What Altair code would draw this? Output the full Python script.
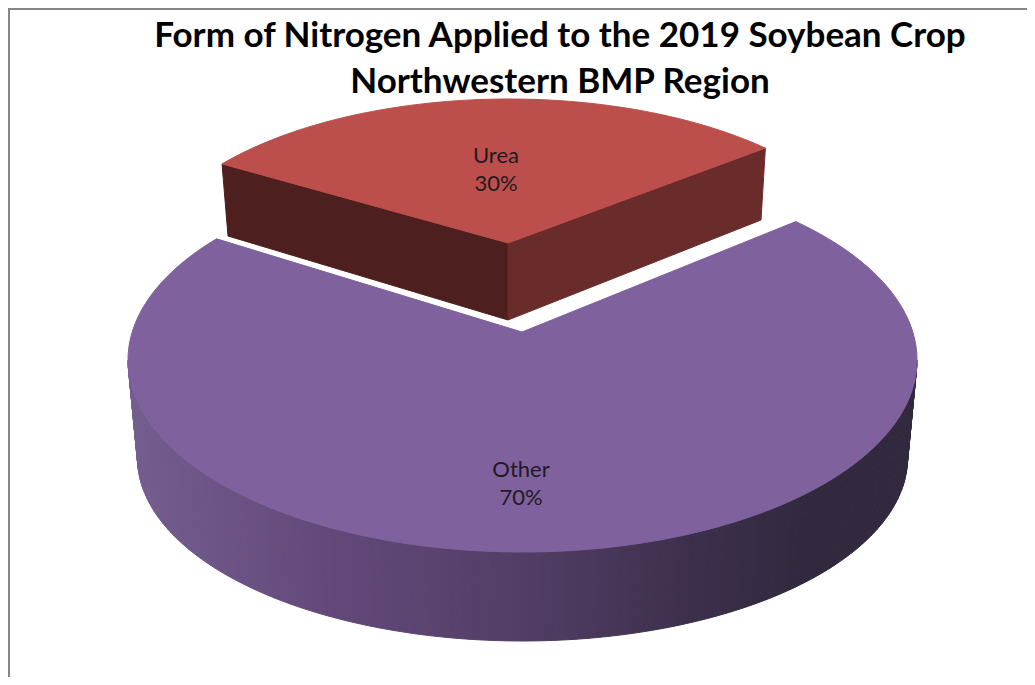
import math
import altair as alt

# ---- chart values ----
categories = ["Urea", "Other"]
shares = [30, 70]
title_lines = ["Form of Nitrogen Applied to the 2019 Soybean Crop",
               "Northwestern BMP Region"]

# ---- view model of the tilted, exploded pie (page pixels) ----
FORESHORTEN = 0.877          # perspective narrows the far slice's apparent angle
MID_ANGLE = 266.5            # direction of the exploded slice
span = shares[0] / 100 * 360 * FORESHORTEN
T0, T1 = MID_ANGLE - span / 2, MID_ANGLE + span / 2

OTHER_TOP = dict(cx=522.5, cy=360, rx=394.5, ry=192)
OTHER_BOT = dict(cx=522.5, cy=458, rx=385, ry=183)
OTHER_APEX = (522, 332)
UREA_TOP = dict(cx=509, cy=275, rx=370, ry=176)
UREA_APEX = (508, 243)
UREA_DROP_LEFT, UREA_DROP_APEX, UREA_DROP_RIGHT = (228, 236), (508, 320), (761, 220)

C_UREA_TOP, C_UREA_LEFT, C_UREA_RIGHT = "#bc4f4c", "#4d1f1e", "#6a2b2b"
C_OTHER_TOP = "#7f619e"
RIM_STOPS = [(0.0, "#755d90"), (0.25, "#63497a"), (0.5, "#523e66"),
             (0.72, "#3c2f4c"), (0.86, "#32293f"), (1.0, "#32293f")]


def pt(e, t):
    a = math.radians(t)
    return (e["cx"] + e["rx"] * math.cos(a), e["cy"] + e["ry"] * math.sin(a))


def arc(e, a, b, step=1.0):
    n = max(2, int(abs(b - a) / step))
    return [pt(e, a + (b - a) * i / n) for i in range(n + 1)]


def rim_colour(f):
    for (f0, c0), (f1, c1) in zip(RIM_STOPS, RIM_STOPS[1:]):
        if f <= f1:
            k = (f - f0) / (f1 - f0)
            rgb = [round(int(c0[i:i + 2], 16) * (1 - k) + int(c1[i:i + 2], 16) * k)
                   for i in (1, 3, 5)]
            return "#%02x%02x%02x" % tuple(rgb)
    return RIM_STOPS[-1][1]


def poly(points, fill, name):
    ring = [list(p) for p in points]
    ring.append(ring[0])
    return {"type": "Feature", "properties": {"fill": fill, "name": name},
            "geometry": {"type": "Polygon", "coordinates": [ring]}}


features = []
u_left, u_right = pt(UREA_TOP, T0), pt(UREA_TOP, T1)
features.append(poly([u_left, UREA_APEX, UREA_DROP_APEX, UREA_DROP_LEFT], C_UREA_LEFT, categories[0]))
features.append(poly([UREA_APEX, u_right, UREA_DROP_RIGHT, UREA_DROP_APEX], C_UREA_RIGHT, categories[0]))
features.append(poly([UREA_APEX] + arc(UREA_TOP, T0, T1), C_UREA_TOP, categories[0]))

STEP = 1
for t in range(180, 0, -STEP):
    a, b = t, t - STEP
    quad = [pt(OTHER_TOP, a), pt(OTHER_TOP, b), pt(OTHER_BOT, b), pt(OTHER_BOT, a)]
    x_mid = (quad[0][0] + quad[1][0]) / 2
    f = (x_mid - (OTHER_TOP["cx"] - OTHER_TOP["rx"])) / (2 * OTHER_TOP["rx"])
    features.append(poly(quad, rim_colour(f), categories[1]))
features.append(poly([OTHER_APEX] + arc(OTHER_TOP, T1, T0 + 360), C_OTHER_TOP, categories[1]))

frame = [{"type": "Feature", "properties": {},
          "geometry": {"type": "LineString",
                       "coordinates": [[9, 693], [9, 9], [1035, 9]]}}]

label_rows = [
    {"lon": 496, "lat": 156, "t": categories[0]},
    {"lon": 496, "lat": 184, "t": f"{shares[0]}%"},
    {"lon": 521, "lat": 470, "t": categories[1]},
    {"lon": 521, "lat": 498, "t": f"{shares[1]}%"},
]

FONT = "Lato"

shapes = alt.Chart(alt.Data(values=features)).mark_geoshape(strokeWidth=1).encode(
    fill=alt.Fill("properties.fill:N", scale=None),
    stroke=alt.Stroke("properties.fill:N", scale=None),
)
border = alt.Chart(alt.Data(values=frame)).mark_geoshape(
    filled=False, stroke="#868686", strokeWidth=2)
labels = alt.Chart(alt.Data(values=label_rows)).mark_text(
    font=FONT, fontSize=22, color="#1f1a22").encode(
    longitude="lon:Q", latitude="lat:Q", text="t:N")

chart = alt.layer(border, shapes, labels).project(
    type="identity", scale=1, translate=[-8, -8]
).properties(
    width=1019, height=669, padding=0,
    autosize=alt.AutoSizeParams(type="none"),
    title=alt.TitleParams(text=title_lines, font=FONT, fontSize=35, fontWeight="bold",
                          color="#000000", anchor="start", align="center",
                          lineHeight=46, baseline="top", dx=552, dy=92, offset=0),
).configure_view(stroke=None).configure(background="#ffffff")

chart.save("out.html", embed_options={"renderer": "svg", "actions": False})
